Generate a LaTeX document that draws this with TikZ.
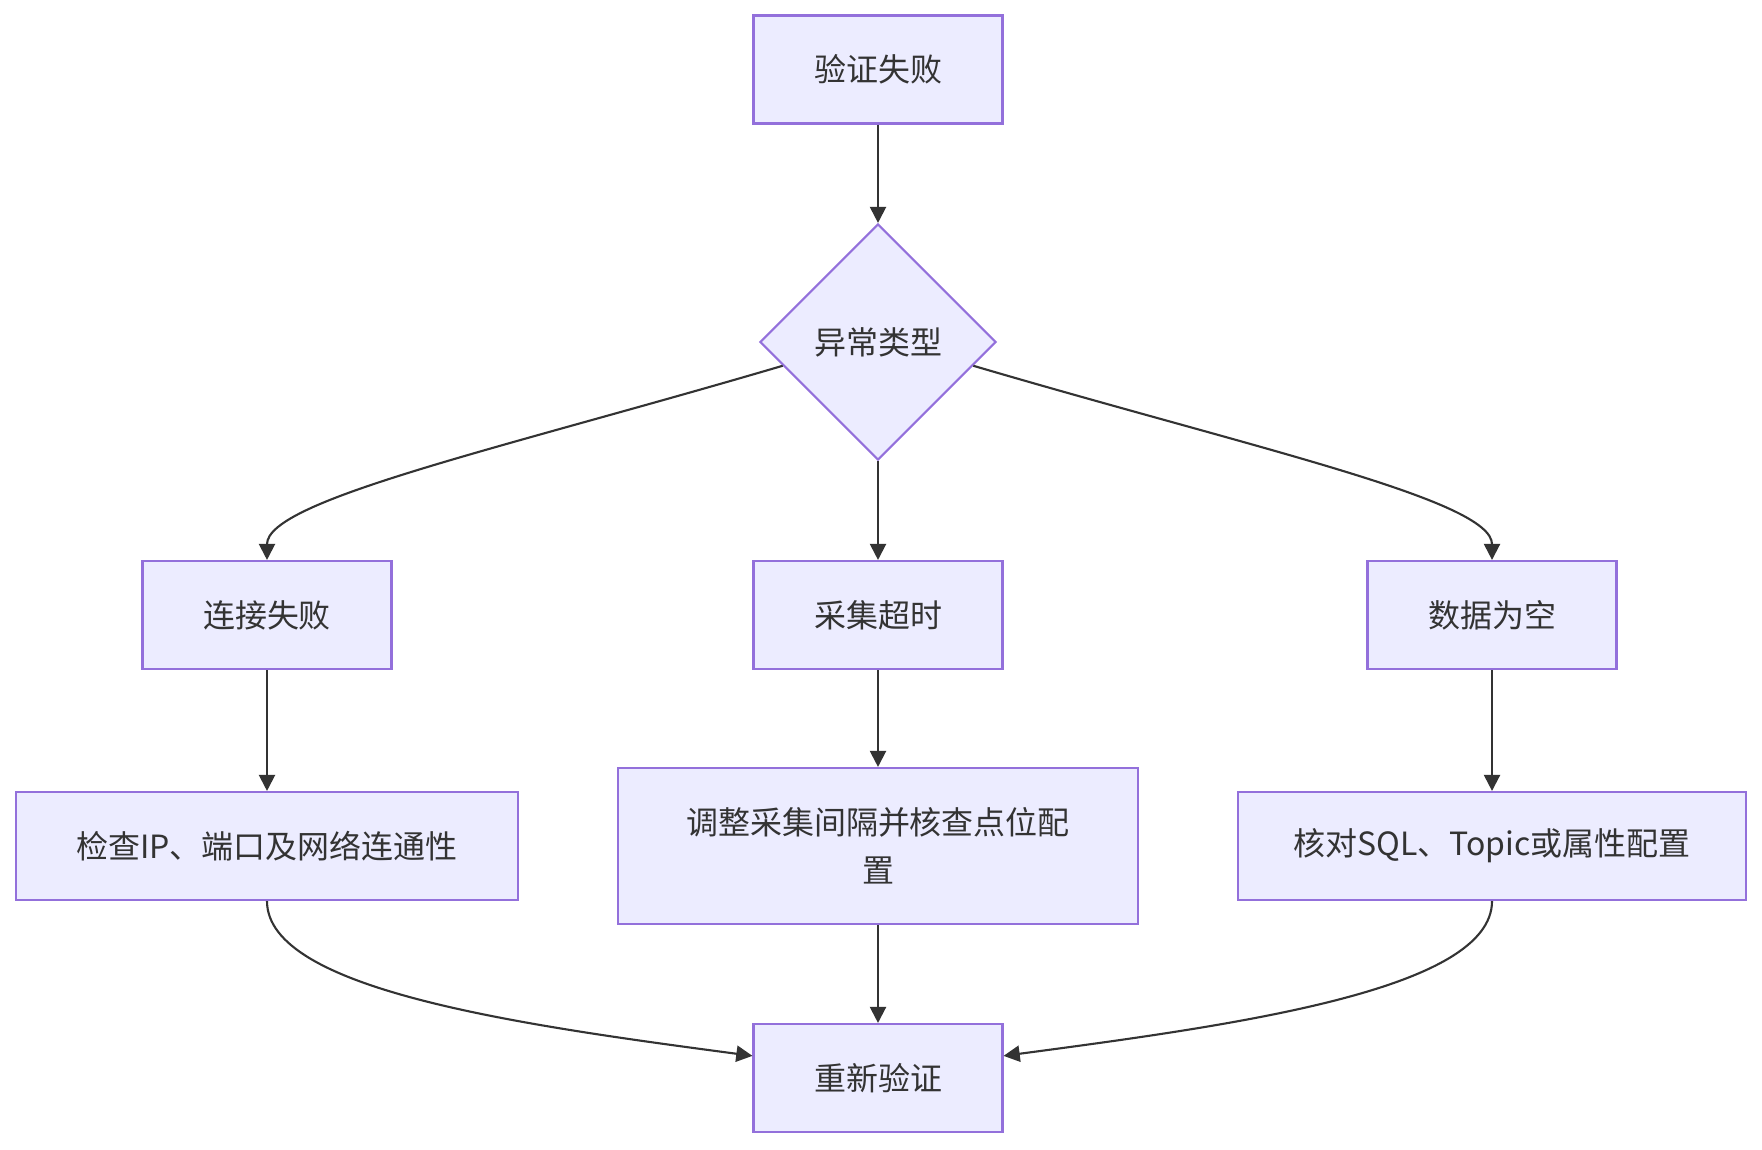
\documentclass[tikz,border=0pt]{standalone}
\usepackage{fontspec}
\setmainfont{Noto Sans CJK SC}
\usetikzlibrary{arrows.meta, shapes.geometric}

\definecolor{nodefill}{HTML}{ECECFF}
\definecolor{nodeline}{HTML}{9370DB}
\definecolor{edgeline}{HTML}{333333}

\begin{document}
\begin{tikzpicture}[
  >={Triangle[length=4.6pt, width=4.6pt]},
  line width=0.6pt,
  proc/.style={
    rectangle, draw=nodeline, fill=nodefill, text=edgeline,
    minimum width=2.49cm, minimum height=1.08cm,
    align=center, font=\fontsize{9.1}{13.6}\selectfont
  },
  decide/.style={
    diamond, draw=nodeline, fill=nodefill, text=edgeline,
    minimum width=2.36cm, minimum height=2.36cm, inner sep=0pt,
    font=\fontsize{9.1}{13.6}\selectfont
  },
  flow/.style={->, draw=edgeline},
]

  \useasboundingbox (0,0) rectangle (17.62,-11.49);

  % -------------------------------------------------------
  %  Nodes
  % -------------------------------------------------------
  \node[proc]   (fail)  at (8.78, -0.695) {验证失败};
  \node[decide] (kind)  at (8.78, -3.42)  {异常类型};

  \node[proc]   (conn)  at (2.67,  -6.15) {连接失败};
  \node[proc]   (tout)  at (8.78,  -6.15) {采集超时};
  \node[proc]   (empty) at (14.92, -6.15) {数据为空};

  \node[proc, minimum width=5.02cm] (chknet) at (2.67, -8.46)
    {检查IP、端口及网络连通性};
  \node[proc, minimum width=5.20cm, minimum height=1.56cm] (adjust) at (8.78, -8.46)
    {调整采集间隔并核查点位配\\置};
  \node[proc, minimum width=5.08cm] (chkcfg) at (14.92, -8.46)
    {核对SQL、Topic或属性配置};

  \node[proc]   (retry) at (8.78, -10.78) {重新验证};

  % -------------------------------------------------------
  %  Branches from the decision
  % -------------------------------------------------------
  \draw[flow] (fail) -- (kind);
  \draw[flow] (kind) -- (tout);
  \draw[flow] (kind.194) .. controls (5.00,-4.49) and (2.67,-5.00) .. (conn.north);
  \draw[flow] (kind.-14) .. controls (12.56,-4.49) and (14.92,-5.00) .. (empty.north);

  % -------------------------------------------------------
  %  Actions
  % -------------------------------------------------------
  \draw[flow] (conn)  -- (chknet);
  \draw[flow] (tout)  -- (adjust);
  \draw[flow] (empty) -- (chkcfg);

  % -------------------------------------------------------
  %  Back to verification
  % -------------------------------------------------------
  \draw[flow] (adjust) -- (retry);
  \draw[flow] (chknet.south) .. controls (2.67,-9.90) and (5.20,-10.25) .. (retry.170);
  \draw[flow] (chkcfg.south) .. controls (14.92,-9.90) and (12.36,-10.25) .. (retry.10);

\end{tikzpicture}
\end{document}
